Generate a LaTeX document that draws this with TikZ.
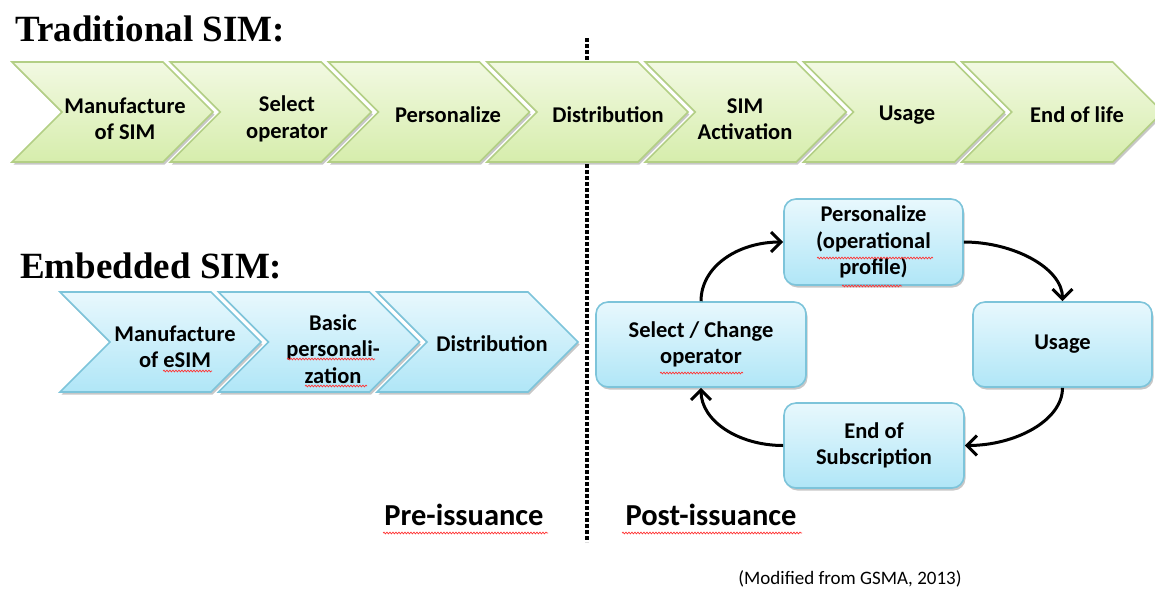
\documentclass[tikz,border=0pt]{standalone}
\usepackage{fontspec}
\setmainfont{Carlito}
\newfontfamily\headfont{Liberation Serif}
\usetikzlibrary{arrows.meta,shadows,decorations.pathmorphing}

\definecolor{grTop}{HTML}{F2F9E2}
\definecolor{grBot}{HTML}{D6EDAC}
\definecolor{grEdge}{HTML}{B3CF85}
\definecolor{blTop}{HTML}{E8F8FD}
\definecolor{blBot}{HTML}{B0E6F7}
\definecolor{blEdge}{HTML}{7DC4DA}

\tikzset{
  lbl/.style={font=\bfseries\fontsize{22.5}{26.5}\selectfont, align=center, inner sep=0pt},
  softshadow/.style={drop shadow={shadow xshift=1.5pt, shadow yshift=-2.5pt, fill=black, opacity=0.22}},
  greenchev/.style={softshadow, top color=grTop, bottom color=grBot, draw=grEdge, line width=1.6pt},
  bluechev/.style={softshadow, top color=blTop, bottom color=blBot, draw=blEdge, line width=1.6pt},
  stagebox/.style={softshadow, rounded corners=12pt, top color=blTop, bottom color=blBot,
    draw=blEdge, line width=1.6pt, lbl, minimum height=85pt},
  cyc/.style={line width=3pt, -{Straight Barb[length=10pt,width=20pt]}},
  sepline/.style={line width=3.5pt, dash pattern=on 3.5pt off 2.5pt},
  squig/.style={red!80!white, line width=0.7pt, decorate,
    decoration={snake, amplitude=0.9pt, segment length=3pt}},
  sectiontitle/.style={font=\headfont\bfseries\fontsize{37}{41}\selectfont, anchor=base west, inner sep=0pt},
  phase/.style={font=\bfseries\fontsize{30.5}{35}\selectfont, anchor=base, inner sep=0pt},
}

\begin{document}
\begin{tikzpicture}[x=1pt,y=-1pt]
\useasboundingbox (0,0) rectangle (1155,590);
\clip (0,0) rectangle (1155,590);

% pre/post-issuance separator
\coordinate (septop) at (587,38);
\coordinate (sepbot) at (587,542);
\draw[sepline] (septop) -- (sepbot);

% ---- Traditional SIM life cycle ----
\node[sectiontitle] (trad) at (15,41) {Traditional SIM:};
\foreach \i in {0,...,6} {
  \path[greenchev] ({12+158.3*\i},62) -- ++(151,0) -- ++(50,50) -- ++(-50,50)
    -- ++(-151,0) -- ++(50,-50) -- cycle;
}
\node[lbl] (t1) at (125,119) {Manufacture\\of SIM};
\node[lbl] (t2) at (287,119) {Select\\operator};
\node[lbl] (t3) at (448,115) {Personalize};
\node[lbl] (t4) at (608,115) {Distribution};
\node[lbl] (t5) at (745,119) {SIM\\Activation};
\node[lbl] (t6) at (907,115) {Usage};
\node[lbl] (t7) at (1077,115) {End of life};

% ---- Embedded SIM ----
\node[sectiontitle] (emb) at (20,278) {Embedded SIM:};
\foreach \i in {0,1,2} {
  \path[bluechev] ({60+158.5*\i},292) -- ++(151,0) -- ++(50,50) -- ++(-50,50)
    -- ++(-151,0) -- ++(50,-50) -- cycle;
}
\node[lbl] (e1) at (175,347) {Manufacture\\of eSIM};
\node[lbl] (e2) at (333,349) {Basic\\personali-\\zation};
\node[lbl] (e3) at (492,344) {Distribution};

% post-issuance cycle
\node[stagebox, minimum width=179pt, minimum height=86pt] (pers) at (873.5,242) {Personalize\\(operational\\profile)};
\node[stagebox, minimum width=210pt] (sel) at (701,344.5) {Select / Change\\operator};
\node[stagebox, minimum width=179pt] (use) at (1062.5,344.5) {Usage};
\node[stagebox, minimum width=180pt] (eos) at (874,445.5) {End of\\Subscription};

\draw[cyc] (sel.north) .. controls +(0,-35) and +(-45,0) .. (pers.west);
\draw[cyc] (pers.east) .. controls +(50,0) and +(0,-33) .. (use.north);
\draw[cyc] (use.south) .. controls +(0,33) and +(50,0) .. (eos.east);
\draw[cyc] (eos.west) .. controls +(-45,0) and +(0,33) .. (sel.south);

% phase labels and source
\node[phase] (pre) at (464,525) {Pre-issuance};
\node[phase] (post) at (711,525) {Post-issuance};
\node[font=\fontsize{19}{22}\selectfont, anchor=base, inner sep=0pt] (src) at (850,584) {(Modified from GSMA, 2013)};

% spell-check underlines
\draw[squig] (163,371) -- (212,371);
\draw[squig] (287,359) -- (375,359);
\draw[squig] (305,386) -- (367,386);
\draw[squig] (817,258) -- (933,258);
\draw[squig] (842,286) -- (902,286);
\draw[squig] (660,373) -- (743,373);
\draw[squig] (383,533) -- (548,533);
\draw[squig] (622,533) -- (802,533);
\end{tikzpicture}
\end{document}
